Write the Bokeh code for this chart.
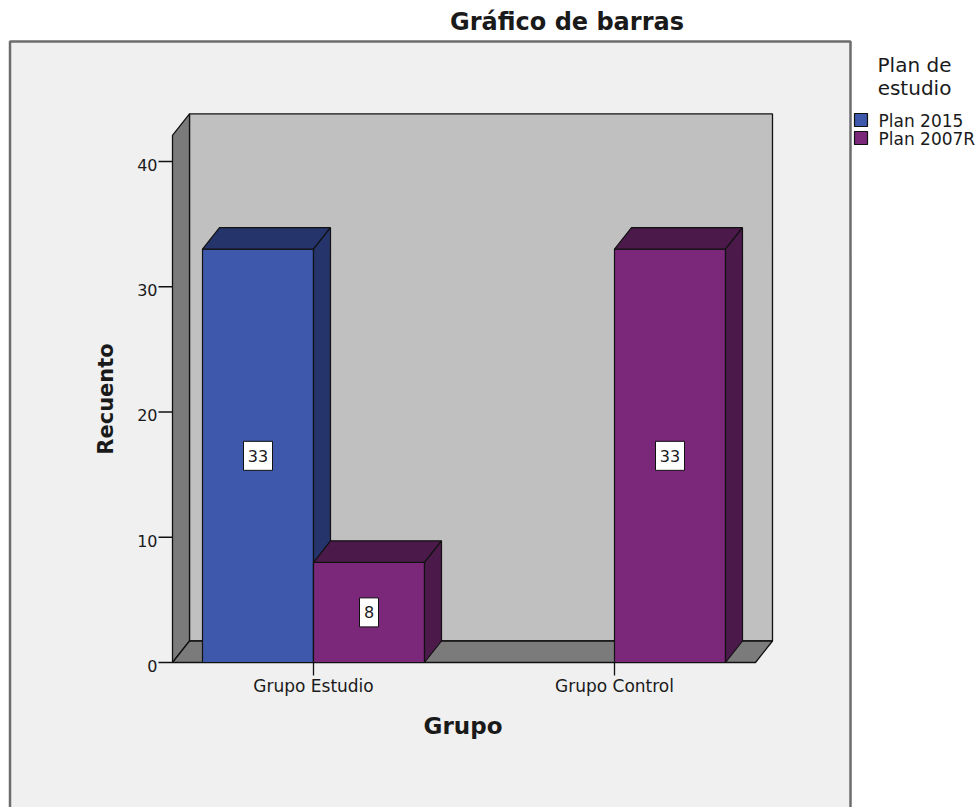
import math
from bokeh.plotting import figure
from bokeh.models import Range1d
from bokeh.core.properties import value
from bokeh.embed import file_html
from bokeh.resources import INLINE

# ---------------- data ----------------
categories = ["Grupo Estudio", "Grupo Control"]
series_names = ["Plan 2015", "Plan 2007R"]
plan_2015 = [33, 0]
plan_2007r = [8, 33]
y_ticks = [0, 10, 20, 30, 40]
title_text = "Gráfico de barras"
x_title = "Grupo"
y_title = "Recuento"
legend_title = ["Plan de", "estudio"]

# ---------------- styling / geometry ----------------
FONT = value("DejaVu Sans")
TXT = "#1a1a1a"
EDGE = "#111111"
W, H = 978, 807
PX_CAT = 301.0            # px per category step
PX_UNIT = 12.525          # px per count unit
CAT0_PX, ZERO_PY = 313.0, 662.0


def X(px):
    """page pixel x -> data x"""
    return (px - CAT0_PX) / PX_CAT


def Y(py):
    """page pixel y -> data y"""
    return (ZERO_PY - py) / PX_UNIT


BAR_W = 111.0 / PX_CAT
DX = 17.0 / PX_CAT
DY = 21.5 / PX_UNIT
WALL_PAD = 141.0 / PX_CAT
Y_TOP = 42.08
XL = -WALL_PAD
XR = (len(categories) - 1) + WALL_PAD

front_cols = ["#3e58ac", "#7b287b"]
dark_cols = ["#25346b", "#4b1a4b"]

p = figure(width=W, height=H, output_backend="svg", toolbar_location=None, tools="",
           title=None, x_range=Range1d(X(0), X(W)), y_range=Range1d(Y(H), Y(0)),
           x_axis_type=None, y_axis_type=None, min_border=0)
p.min_border_left = 0
p.min_border_right = 0
p.min_border_top = 0
p.min_border_bottom = 0
p.border_fill_color = "white"
p.background_fill_color = "white"
p.outline_line_color = None
p.xgrid.visible = False
p.ygrid.visible = False

# SPSS chart area box
p.quad(left=[X(9.5)], right=[X(850)], top=[Y(41)], bottom=[Y(840)],
       fill_color="#f0f0f0", line_color="#6d6d6d", line_width=2.5)

# 3D walls
p.quad(left=[XL + DX], right=[XR + DX], bottom=[DY], top=[Y_TOP + DY],
       fill_color="#c0c0c0", line_color=EDGE, line_width=1.3)
p.patch([XL, XL, XL + DX, XL + DX], [0, Y_TOP, Y_TOP + DY, DY],
        fill_color="#7b7b7b", line_color=EDGE, line_width=1.3)
p.patch([XL, XR, XR + DX, XL + DX], [0, 0, DY, DY],
        fill_color="#7b7b7b", line_color=EDGE, line_width=1.3)

# bars
label_x, label_y, label_t = [], [], []
for s, vals in enumerate([plan_2015, plan_2007r]):
    lefts, rights, tops = [], [], []
    for i, v in enumerate(vals):
        if v <= 0:
            continue
        l = i - BAR_W + s * BAR_W
        lefts.append(l)
        rights.append(l + BAR_W)
        tops.append(v)
        label_x.append(l + BAR_W / 2)
        label_y.append(v / 2)
        label_t.append(str(v))
    p.quad(left=lefts, right=rights, bottom=[0] * len(lefts), top=tops,
           fill_color=front_cols[s], line_color=EDGE, line_width=1.2)
    top_xs = [[l, r, r + DX, l + DX] for l, r in zip(lefts, rights)]
    top_ys = [[t, t, t + DY, t + DY] for t in tops]
    p.patches(top_xs, top_ys, fill_color=dark_cols[s], line_color=EDGE, line_width=1.2)
    side_xs = [[r, r, r + DX, r + DX] for r in rights]
    side_ys = [[0, t, t + DY, DY] for t in tops]
    p.patches(side_xs, side_ys, fill_color=dark_cols[s], line_color=EDGE, line_width=1.2)

# value labels
p.rect(x=label_x, y=label_y, width=[9 + 10 * len(t) for t in label_t], height=29,
       width_units="screen", height_units="screen",
       fill_color="white", line_color=EDGE, line_width=1)
p.text(x=label_x, y=label_y, text=label_t,
       text_align="center", text_baseline="middle",
       text_font=FONT, text_font_size="16px", text_color=TXT)

# y axis (ticks + labels through the data scale)
p.segment(x0=[XL - 14.0 / PX_CAT] * len(y_ticks), y0=y_ticks,
          x1=[XL] * len(y_ticks), y1=y_ticks, line_color=EDGE, line_width=1.3)
p.text(x=[XL - 15.0 / PX_CAT] * len(y_ticks), y=[t - 3.3 / PX_UNIT for t in y_ticks],
       text=[str(t) for t in y_ticks], text_align="right", text_baseline="middle",
       text_font=FONT, text_font_size="16px", text_color=TXT)

# x axis (category ticks + labels)
cat_pos = list(range(len(categories)))
p.segment(x0=cat_pos, y0=[0] * len(cat_pos), x1=cat_pos, y1=[-13.0 / PX_UNIT] * len(cat_pos),
          line_color=EDGE, line_width=1.3)
p.text(x=cat_pos, y=[-23.0 / PX_UNIT] * len(cat_pos), text=categories,
       text_align="center", text_baseline="middle",
       text_font=FONT, text_font_size="17px", text_color=TXT)

# titles
p.text(x=[X(566.5)], y=[Y(21)], text=[title_text], text_align="center",
       text_baseline="middle", text_font=FONT, text_font_size="24px",
       text_font_style="bold", text_color=TXT)
p.text(x=[X(462.5)], y=[Y(725.5)], text=[x_title], text_align="center",
       text_baseline="middle", text_font=FONT, text_font_size="23px",
       text_font_style="bold", text_color=TXT)
p.text(x=[X(105)], y=[Y(398.5)], text=[y_title], angle=math.pi / 2, text_align="center",
       text_baseline="middle", text_font=FONT, text_font_size="21px",
       text_font_style="bold", text_color=TXT)

# legend
p.text(x=[X(914)] * 2, y=[Y(64), Y(87.7)], text=legend_title, text_align="center",
       text_baseline="middle", text_font=FONT, text_font_size="20px", text_color=TXT)
for s, name in enumerate(series_names):
    top_px = 113 + 18 * s
    p.quad(left=[X(854)], right=[X(867)], top=[Y(top_px)], bottom=[Y(top_px + 13)],
           fill_color=front_cols[s], line_color=EDGE, line_width=1.2)
    p.text(x=[X(878)], y=[Y(top_px + 7.5)], text=[name], text_align="left",
           text_baseline="middle", text_font=FONT, text_font_size="17px",
           text_color=TXT)

open("out.html", "w").write(file_html(p, INLINE))
